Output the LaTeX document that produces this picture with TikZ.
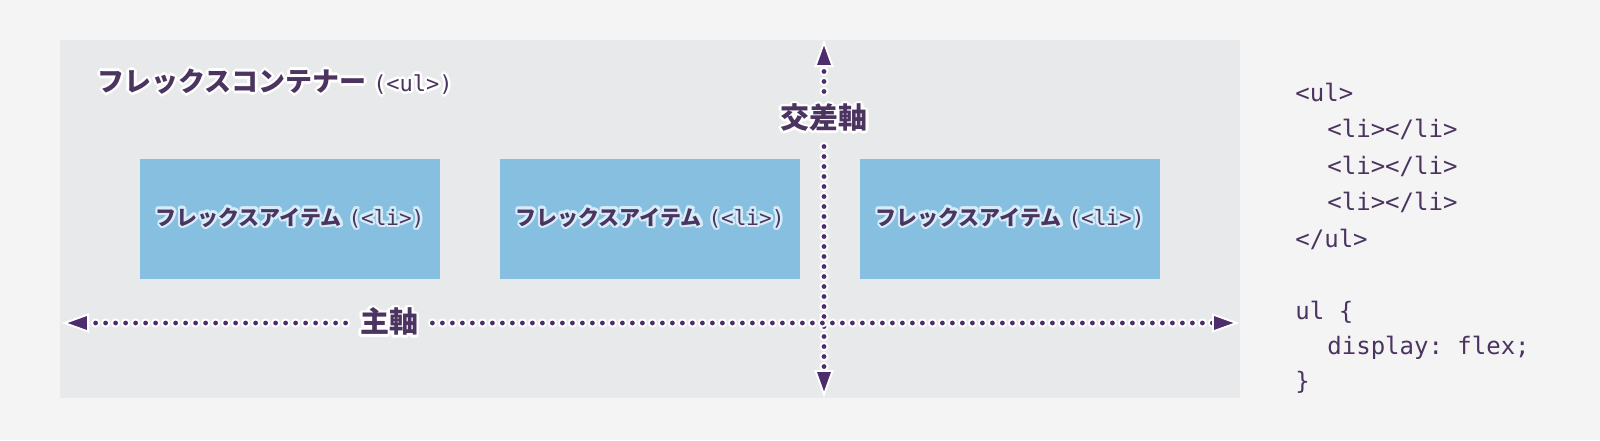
\documentclass[tikz,border=0pt]{standalone}
\usepackage{fontspec}
\setmonofont{DejaVu Sans Mono}
\newfontfamily\jpfont{Noto Sans CJK JP}
\usepackage{contour}
\usetikzlibrary{arrows.meta}
\usetikzlibrary{positioning}

\definecolor{pagebg}{HTML}{F4F4F4}
\definecolor{boxgray}{HTML}{E8E9EA}
\definecolor{itemblue}{HTML}{86BFDF}
\definecolor{inkpurple}{HTML}{4B3460}
\definecolor{tippurple}{HTML}{4E2D6E}
\definecolor{itemhalo}{HTML}{D6ECF8}

\contourlength{1.3pt}
\contournumber{12}
\newcommand\flexitemtext{\contour{itemhalo}{{\jpfont\bfseries\fontsize{10.5}{12}\selectfont フレックスアイテム} {\ttfamily\fontsize{10.5}{12}\selectfont (<li>)}}}

\tikzset{
  flexbox/.style={fill=boxgray, minimum width=590pt, minimum height=179pt, inner sep=0pt},
  flexitem/.style={fill=itemblue, minimum width=150pt, minimum height=60pt, inner sep=0pt, text=inkpurple},
  axislabel/.style={inner xsep=7pt, inner ysep=6pt, text=inkpurple, font=\jpfont\bfseries\fontsize{14.5}{16}\selectfont},
  axis/.style={preaction={draw=white, line width=4.6pt, dash pattern=on 0pt off 5pt, line cap=round},
    draw=tippurple, line width=2.4pt, dash pattern=on 0pt off 5pt, line cap=round},
  axistip/.style={-{Triangle[length=13.5pt,width=9.5pt,line width=0.9pt,color=white,fill=tippurple]}},
  codeline/.style={anchor=base west, inner sep=0pt, text=inkpurple, font=\ttfamily\fontsize{12}{14}\selectfont}
}

\begin{document}
\begin{tikzpicture}[x=0.5pt,y=-0.5pt]
  \fill[pagebg] (0,0) rectangle (1600,440);

  % container and items
  \node[flexbox] (container) at (650,219) {};
  \node[anchor=west, inner sep=0pt, text=inkpurple] (title) at (97,83)
    {\contour{white}{{\jpfont\bfseries\fontsize{13.5}{15}\selectfont フレックスコンテナー} {\ttfamily\fontsize{11}{13}\selectfont (<ul>)}}};
  \foreach \i/\x in {1/290,2/650,3/1010}
    \node[flexitem] (item\i) at (\x,219) {\flexitemtext};

  % axes
  \coordinate (crosstop) at (824,40);
  \coordinate (crossbot) at (824,397);
  \coordinate (mainleft) at (62,323);
  \coordinate (mainright) at (1239,323);
  \node[axislabel] (crosslbl) at (824,119) {\contour{white}{交差軸}};
  \node[axislabel] (mainlbl) at (389,323) {\contour{white}{主軸}};
  \draw[axis,axistip] (crosslbl) -- (crosstop);
  \draw[axis,axistip] (crosslbl) -- (crossbot);
  \draw[axis,axistip] (mainlbl) -- (mainleft);
  \draw[axis,axistip] (mainlbl) -- (mainright);

  % code
  \node[codeline] (code1) at (1295,101) {<ul>};
  \node[codeline] (code2) at (1327,137) {<li></li>};
  \node[codeline] (code3) at (1327,174) {<li></li>};
  \node[codeline] (code4) at (1327,210) {<li></li>};
  \node[codeline] (code5) at (1295,247) {</ul>};
  \node[codeline] (code6) at (1295,319) {ul \{};
  \node[codeline] (code7) at (1327,354) {display: flex;};
  \node[codeline] (code8) at (1295,389) {\}};
\end{tikzpicture}
\end{document}
